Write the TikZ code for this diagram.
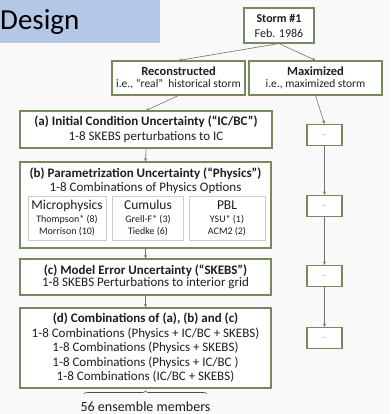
\documentclass[tikz,border=0pt]{standalone}
\usepackage{fontspec}
\setmainfont{Carlito}
\usetikzlibrary{arrows.meta,decorations.pathreplacing}

\definecolor{boxgreen}{RGB}{118,138,96}
\definecolor{bannerblue}{RGB}{180,199,231}
\definecolor{pagegray}{RGB}{249,249,249}
\definecolor{inkgray}{RGB}{30,30,30}

\tikzset{
    box/.style={draw=boxgreen, line width=1.1pt, fill=white, align=center,
        inner sep=0pt, text=inkgray},
    subbox/.style={draw=boxgreen!40, line width=1pt, fill=white, align=center,
        inner sep=0pt, text=inkgray},
    dotbox/.style={box, minimum width=35pt, minimum height=21pt, font=\fontsize{5}{5}\selectfont},
    link/.style={-{Stealth[length=3.5pt,width=3pt]}, black!55, line width=0.6pt}
}

\begin{document}
\begin{tikzpicture}[x=1pt,y=-1pt]
    % Page
    \fill[pagegray] (0,0) rectangle (390,414);
    \useasboundingbox (0,0) rectangle (390,414);

    % Title
    \fill[bannerblue] (0,0) rectangle (160,43);
    \node[anchor=west, inner sep=0pt, font=\fontsize{29}{29}\selectfont] (title) at (0,22) {Design};

    % Storm and its two branches
    \node[box, minimum width=70pt, minimum height=35pt, font=\fontsize{12}{15}\selectfont] (storm) at (279,25.5)
        {\textbf{Storm \#1}\\Feb. 1986};
    \node[box, minimum width=133pt, minimum height=34pt, font=\fontsize{11.5}{12}\selectfont] (recon) at (178.5,78)
        {{\fontsize{12.5}{12}\selectfont\textbf{Reconstructed}}\\i.e., “real”\ \ historical storm};
    \node[box, minimum width=133pt, minimum height=34pt, font=\fontsize{11.5}{12}\selectfont] (maxim) at (315.5,78)
        {{\fontsize{12.5}{12}\selectfont\textbf{Maximized}}\\i.e., maximized storm};

    % Uncertainty steps
    \node[box, minimum width=252pt, minimum height=37pt, font=\fontsize{13}{15}\selectfont] (ic) at (146,129.5)
        {\textbf{(a) Initial Condition Uncertainty (“IC/BC”)}\\1-8 SKEBS perturbations to IC};
    \node[box, minimum width=251pt, minimum height=86pt, font=\fontsize{13}{14}\selectfont] (phys) at (145.5,205) {};
    \node[align=center, inner sep=0pt, text=inkgray, font=\fontsize{13}{14}\selectfont] (physhead) at (145.5,181)
        {\textbf{(b) Parametrization Uncertainty (“Physics”)}\\1-8 Combinations of Physics Options};
    \node[subbox, minimum width=78pt, minimum height=44pt] (micro) at (67,218.5)
        {{\fontsize{13.5}{13}\selectfont Microphysics}\\[1pt]{\fontsize{10}{10}\selectfont Thompson* (8)}\\{\fontsize{10}{10}\selectfont Morrison (10)}};
    \node[subbox, minimum width=71pt, minimum height=44pt] (cumul) at (148,218.5)
        {{\fontsize{13.5}{13}\selectfont Cumulus}\\[1pt]{\fontsize{10}{10}\selectfont Grell-F* (3)}\\{\fontsize{10}{10}\selectfont Tiedke (6)}};
    \node[subbox, minimum width=76pt, minimum height=44pt] (pbl) at (227,218.5)
        {{\fontsize{13.5}{13}\selectfont PBL}\\[1pt]{\fontsize{10}{10}\selectfont YSU* (1)}\\{\fontsize{10}{10}\selectfont ACM2 (2)}};
    \node[box, minimum width=251pt, minimum height=36pt, font=\fontsize{13}{12.5}\selectfont] (skebs) at (145.5,277)
        {\textbf{(c) Model Error Uncertainty (“SKEBS”)}\\1-8 SKEBS Perturbations to interior grid};
    \node[box, minimum width=251pt, minimum height=80pt, font=\fontsize{13}{14.5}\selectfont] (combo) at (145.5,348)
        {\textbf{(d) Combinations of (a), (b) and (c)}\\
         1-8 Combinations (Physics + IC/BC + SKEBS)\\
         1-8 Combinations (Physics + SKEBS)\\
         1-8 Combinations (Physics + IC/BC )\\
         1-8 Combinations (IC/BC + SKEBS)};

    % Maximized column
    \foreach \i/\y in {1/135, 2/206, 3/276, 4/338} {
        \node[dotbox] (m\i) at (324.5,\y) {...};
    }

    % Connectors
    \draw[link] (storm.south) -- (recon.north);
    \draw[link] (storm.south) -- (maxim.north);
    \draw[link] (recon.south) -- (ic.north);
    \draw[link] (ic.south) -- (phys.north);
    \draw[link] (phys.south) -- (skebs.north);
    \draw[link] (skebs.south) -- (combo.north);
    \draw[link] (maxim.south) -- (m1.north);
    \foreach \i/\j in {1/2, 2/3, 3/4} {
        \draw[link] (m\i.south) -- (m\j.north);
    }

    % Ensemble size
    \coordinate (braceL) at (84,394);
    \coordinate (braceR) at (207,394);
    \draw[black!70, line width=0.6pt, decorate, decoration={brace, amplitude=3pt}] (braceL) -- (braceR);
    \node[text=inkgray, font=\fontsize{14}{14}\selectfont] (members) at (145.5,407) {56 ensemble members};
\end{tikzpicture}
\end{document}
